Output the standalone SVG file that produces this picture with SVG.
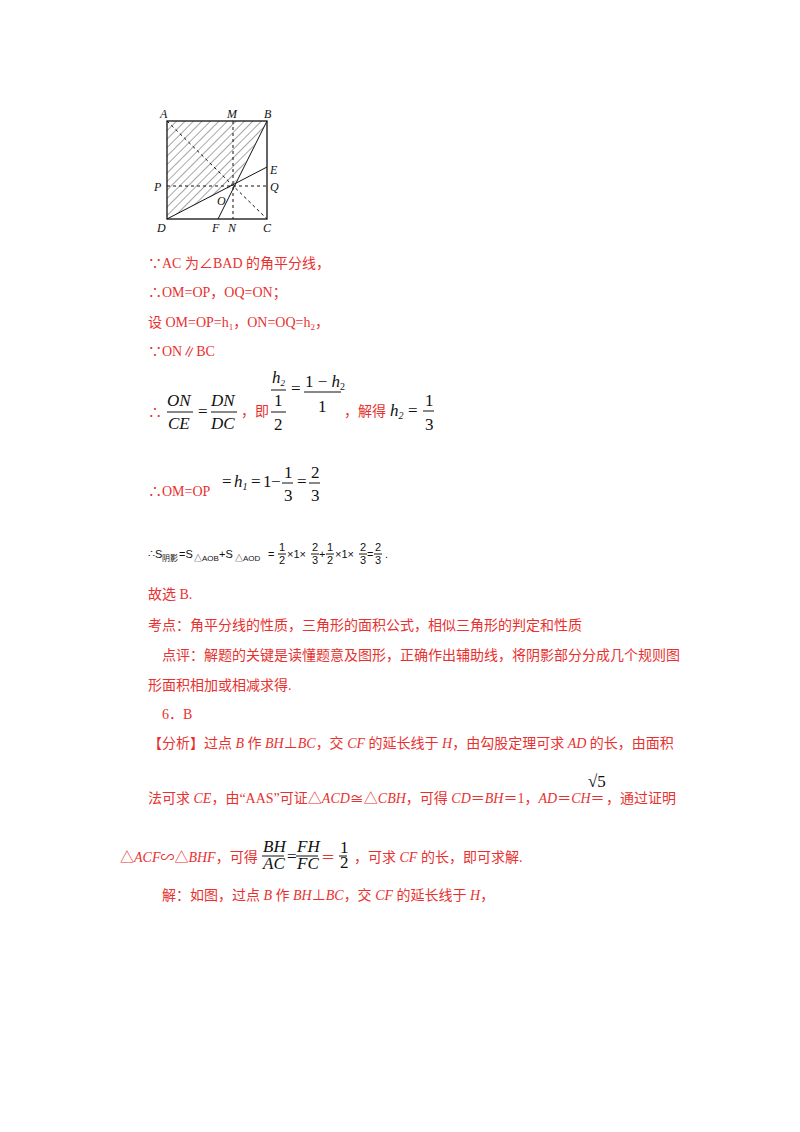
<svg xmlns="http://www.w3.org/2000/svg" width="800" height="1132" viewBox="0 0 800 1132">
<style>
.r{fill:#e8312f;font-family:"Liberation Serif","Noto Sans CJK SC",serif;font-size:14px}
.m{fill:#111;font-family:"Liberation Serif",serif;font-size:17px}
.i{font-style:italic}
.s{fill:#111;font-family:"Liberation Sans",sans-serif;font-size:11px}
.ss{fill:#111;font-family:"Liberation Sans","Noto Sans CJK SC",sans-serif;font-size:8px}
.lb{fill:#111;font-family:"Liberation Serif",serif;font-size:12px;font-style:italic}
.fl{stroke:#111;stroke-width:1}
.d{stroke:#111;stroke-width:1;stroke-dasharray:3,3;fill:none}
</style>
<defs>
<pattern id="h" width="6" height="6" patternUnits="userSpaceOnUse" patternTransform="rotate(45)"><line x1="0" y1="0" x2="0" y2="6" stroke="#222" stroke-width="0.8"/></pattern>
</defs>
<rect width="800" height="1132" fill="#fff"/>
<g id="figure">
<polygon points="167,121 267,121 233,186 167,219" fill="url(#h)"/>
<rect x="167" y="121" width="100" height="98" fill="none" stroke="#111" stroke-width="1.3"/>
<line class="d" x1="167" y1="121" x2="267" y2="219"/>
<line class="d" x1="233" y1="121" x2="233" y2="219"/>
<line class="d" x1="167" y1="186" x2="267" y2="186"/>
<line class="fl" x1="267" y1="121" x2="218" y2="219"/>
<line class="fl" x1="167" y1="219" x2="267" y2="167"/>
<text class="lb" x="160" y="118">A</text><text class="lb" x="227" y="118">M</text><text class="lb" x="264" y="118">B</text>
<text class="lb" x="270" y="174">E</text><text class="lb" x="154" y="191">P</text><text class="lb" x="270" y="191">Q</text>
<text class="lb" x="217" y="205">O</text><text class="lb" x="157" y="232">D</text><text class="lb" x="212" y="232">F</text>
<text class="lb" x="228" y="232">N</text><text class="lb" x="263" y="232">C</text>
</g>
<g id="text">
<text class="r" x="148" y="268">∵AC 为∠BAD 的角平分线，</text>
<text class="r" x="148" y="297">∴OM=OP，OQ=ON；</text>
<text class="r" x="148" y="327">设 OM=OP=h<tspan font-size="9" dy="3">1</tspan><tspan dy="-3">，ON=OQ=h</tspan><tspan font-size="9" dy="3">2</tspan><tspan dy="-3">，</tspan></text>
<text class="r" x="148" y="356">∵ON∥BC</text>
<text class="r" x="148" y="417" font-size="17">∴</text>
<text class="m i" x="167" y="406">ON</text><line class="fl" x1="167" y1="412" x2="193" y2="412"/><text class="m i" x="168" y="429">CE</text>
<text class="m" x="198" y="417">=</text>
<text class="m i" x="211" y="406">DN</text><line class="fl" x1="211" y1="412" x2="237" y2="412"/><text class="m i" x="211" y="429">DC</text>
<text class="r" x="241" y="416">，即</text>
<text class="m i" x="272" y="383" font-size="15">h<tspan font-size="9" dy="3">2</tspan></text><line class="fl" x1="271" y1="390" x2="286" y2="390"/>
<text class="m" x="274" y="406" font-size="15">1</text><line class="fl" x1="271" y1="412" x2="286" y2="412"/><text class="m" x="274" y="430" font-size="15">2</text>
<text class="m" x="291" y="394">=</text>
<text class="m" x="305" y="387">1 − <tspan class="i">h</tspan><tspan font-size="10" dy="3">2</tspan></text><line class="fl" x1="304" y1="392" x2="341" y2="392"/><text class="m" x="318" y="412">1</text>
<text class="r" x="344" y="416">，解得</text>
<text class="m i" x="390" y="416">h<tspan font-size="10" dy="3">2</tspan></text><text class="m" x="408" y="416">=</text>
<text class="m" x="425" y="406">1</text><line class="fl" x1="423" y1="411" x2="434" y2="411"/><text class="m" x="425" y="430">3</text>
<text class="r" x="148" y="496">∴OM=OP</text>
<text class="m" x="222" y="487">=</text>
<text class="m i" x="234" y="487">h<tspan font-size="10" dy="3">1</tspan></text>
<text class="m" x="251" y="487">=</text>
<text class="m" x="263" y="487">1</text>
<text class="m" x="271" y="487">−</text>
<text class="m" x="284" y="478">1</text><line class="fl" x1="282" y1="483" x2="293" y2="483"/><text class="m" x="284" y="501">3</text>
<text class="m" x="297" y="487">=</text>
<text class="m" x="311" y="478">2</text><line class="fl" x1="309" y1="483" x2="320" y2="483"/><text class="m" x="311" y="501">3</text>
<text class="s" x="148" y="558">∴S</text><text class="ss" x="162" y="561">阴影</text>
<text class="s" x="179" y="558">=S</text><text class="ss" x="194" y="561">△AOB</text>
<text class="s" x="219" y="558">+S</text><text class="ss" x="235" y="561">△AOD</text>
<text class="s" x="268" y="558">=</text>
<text class="s" x="279" y="551">1</text><line class="fl" x1="278" y1="554" x2="286" y2="554" stroke-width="0.7"/><text class="s" x="279" y="564">2</text>
<text class="s" x="287" y="558">×1×</text>
<text class="s" x="312" y="551">2</text><line class="fl" x1="311" y1="554" x2="319" y2="554" stroke-width="0.7"/><text class="s" x="312" y="564">3</text>
<text class="s" x="319" y="558">+</text>
<text class="s" x="327" y="551">1</text><line class="fl" x1="326" y1="554" x2="334" y2="554" stroke-width="0.7"/><text class="s" x="327" y="564">2</text>
<text class="s" x="335" y="558">×1×</text>
<text class="s" x="360" y="551">2</text><line class="fl" x1="359" y1="554" x2="367" y2="554" stroke-width="0.7"/><text class="s" x="360" y="564">3</text>
<text class="s" x="367" y="558">=</text>
<text class="s" x="375" y="551">2</text><line class="fl" x1="374" y1="554" x2="382" y2="554" stroke-width="0.7"/><text class="s" x="375" y="564">3</text>
<text class="s" x="385" y="558">.</text>
<text class="r" x="148" y="599">故选 B.</text>
<text class="r" x="148" y="630">考点：角平分线的性质，三角形的面积公式，相似三角形的判定和性质</text>
<text class="r" x="162" y="660">点评：解题的关键是读懂题意及图形，正确作出辅助线，将阴影部分分成几个规则图</text>
<text class="r" x="148" y="690">形面积相加或相减求得.</text>
<text class="r" x="162" y="719">6．B</text>
<text class="r" x="148" y="748">【分析】过点 <tspan class="i">B</tspan> 作 <tspan class="i">BH</tspan>⊥<tspan class="i">BC</tspan>，交 <tspan class="i">CF</tspan> 的延长线于 <tspan class="i">H</tspan>，由勾股定理可求 <tspan class="i">AD</tspan> 的长，由面积</text>
<text class="r" x="148" y="803" font-size="12.8">法可求 <tspan class="i">CE</tspan>，由“AAS”可证△<tspan class="i">ACD</tspan>≅△<tspan class="i">CBH</tspan>，可得 <tspan class="i">CD</tspan>＝<tspan class="i">BH</tspan>＝1，<tspan class="i">AD</tspan>＝<tspan class="i">CH</tspan>＝</text>
<text class="m" x="588" y="787" font-size="15">√5</text>
<text class="r" x="606" y="803">，通过证明</text>
<text class="r" x="120" y="862" font-size="13.5">△<tspan class="i">ACF</tspan>∽△<tspan class="i">BHF</tspan>，可得</text>
<text class="m i" x="263" y="852" font-size="13">BH</text><line class="fl" x1="262" y1="856" x2="284" y2="856"/><text class="m i" x="263" y="869" font-size="13">AC</text>
<text class="m" x="287" y="862" font-size="13">=</text>
<text class="m i" x="297" y="852" font-size="13">FH</text><line class="fl" x1="296" y1="856" x2="318" y2="856"/><text class="m i" x="297" y="869" font-size="13">FC</text>
<text class="r" x="321" y="862">＝</text>
<text class="m" x="340" y="853" font-size="11">1</text><line class="fl" x1="339" y1="856" x2="347" y2="856"/><text class="m" x="340" y="868" font-size="11">2</text>
<text class="r" x="354" y="862">，可求 <tspan class="i">CF</tspan> 的长，即可求解.</text>
<text class="r" x="162" y="900">解：如图，过点 <tspan class="i">B</tspan> 作 <tspan class="i">BH</tspan>⊥<tspan class="i">BC</tspan>，交 <tspan class="i">CF</tspan> 的延长线于 <tspan class="i">H</tspan>，</text>
</g>
</svg>
